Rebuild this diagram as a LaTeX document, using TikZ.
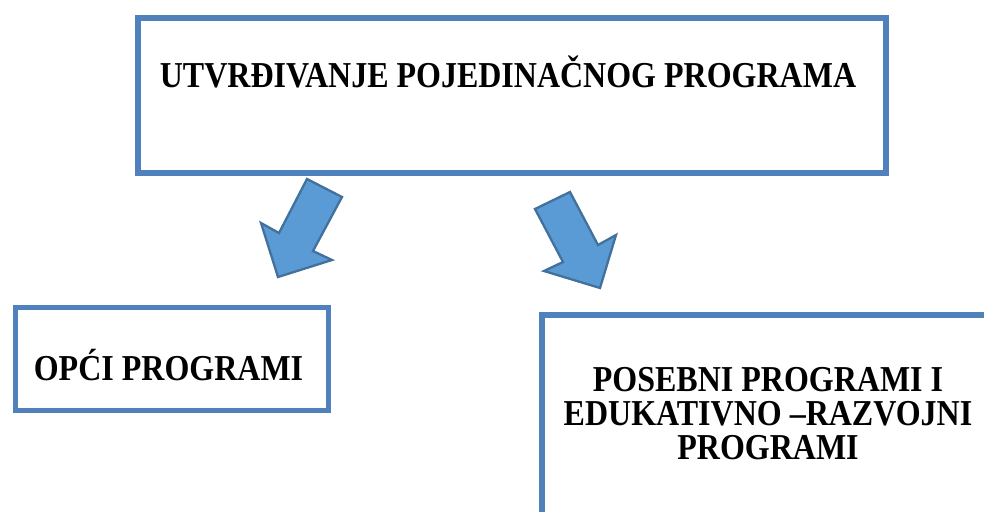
\documentclass[tikz,border=0pt]{standalone}
\usepackage{fontspec}
\setmainfont{Liberation Serif}
\definecolor{boxblue}{HTML}{4F81BD}
\definecolor{arrowfill}{HTML}{5B9BD5}
\definecolor{arrowline}{HTML}{41719C}
\newcommand{\tallbold}[1]{\scalebox{1}[1.14]{\fontsize{32}{29}\selectfont\bfseries\begin{tabular}{@{}c@{}}#1\end{tabular}}}
\begin{document}
\begin{tikzpicture}[x=1pt,y=-1pt,
  framebox/.style={draw=boxblue, line width=6pt, inner sep=0pt, anchor=north west},
  label/.style={inner sep=0pt},
  blockarrow/.style={fill=arrowfill, draw=arrowline, line width=2.3pt, line join=miter}]
\useasboundingbox (0,0) rectangle (984,511);
\clip (0,0) rectangle (984,511);
% boxes
\node[framebox, minimum width=748pt, minimum height=155pt] (top) at (135,15) {};
\node[framebox, line width=5.5pt, minimum width=313pt, minimum height=103pt] (opci) at (12.5,304.5) {};
\node[framebox, minimum width=480pt, minimum height=230pt] (posebni) at (539,312) {};
% texts
\node[label] (toptext) at (508,77) {\tallbold{UTVRĐIVANJE POJEDINAČNOG PROGRAMA}};
\node[label] (opcitext) at (168.5,370) {\tallbold{OPĆI PROGRAMI}};
\node[label] (posebnitext) at (768,418) {\tallbold{POSEBNI PROGRAMI I\\EDUKATIVNO –RAZVOJNI\\PROGRAMI}};
% block arrows
\draw[blockarrow] (307,179) -- (342,197) -- (313,251) -- (332,260) -- (278,277) -- (261,223) -- (279,233) -- cycle;
\draw[blockarrow] (535,209) -- (570,192) -- (598,245) -- (616,235) -- (600,288) -- (544,271) -- (563,262) -- cycle;
\end{tikzpicture}
\end{document}
